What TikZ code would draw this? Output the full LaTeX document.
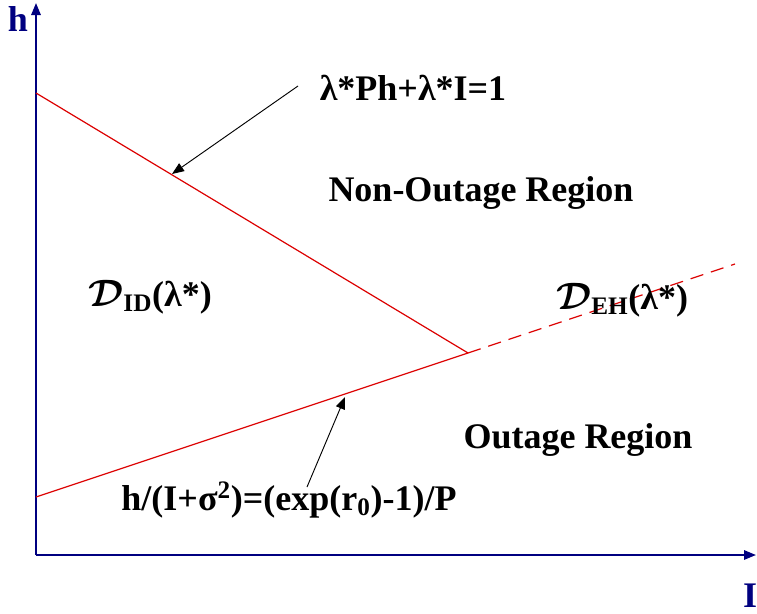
\documentclass[tikz,border=0pt]{standalone}
\usepackage{fontspec}
\setmainfont{Liberation Serif}
\usepackage{amsmath,amssymb}
\usepackage{xcolor}
\usetikzlibrary{positioning, calc, arrows.meta}

\definecolor{axisblue}{RGB}{0,0,128}
\definecolor{bndred}{RGB}{220,0,0}

\newcommand{\calD}{\scalebox{1.15}{$\boldsymbol{\mathcal{D}}$}}

\tikzset{
    axisline/.style={draw=axisblue, line width=1.5pt, -{Triangle[length=9pt,width=7pt]}},
    bndline/.style={draw=bndred, line width=0.9pt},
    pointer/.style={draw=black, line width=0.7pt, -{Triangle[length=9pt,width=7pt]}},
    lbl/.style={font=\fontsize{27}{32}\selectfont\bfseries, inner sep=0pt}
}

\begin{document}
\begin{tikzpicture}[x=0.75pt, y=-0.75pt]
        \useasboundingbox (0,0) rectangle (757,614);

        % ===================================================
        % 1. AXES
        % ===================================================
        \coordinate (O) at (36,555);
        \coordinate (ytip) at (36,3);
        \coordinate (xtip) at (756,555);
        \draw[axisline] (O) -- (ytip);
        \draw[axisline] (O) -- (xtip);
        \node[lbl, text=axisblue] (hlbl) at (18,19) {h};
        \node[lbl, text=axisblue] (Ilbl) at (750,596) {I};

        % ===================================================
        % 2. REGION BOUNDARIES
        % ===================================================
        \coordinate (A) at (36,93);   % lambda line on h axis
        \coordinate (B) at (36,497);  % outage line on h axis
        \coordinate (K) at (468,353); % where both lines meet
        \coordinate (E) at (735,264); % end of dashed part

        \draw[bndline] (A) -- (K);
        \draw[bndline] (B) -- (K);
        \draw[bndline, dash pattern=on 10pt off 6pt] (K) -- (E);

        % ===================================================
        % 3. REGION LABELS
        % ===================================================
        \node[lbl] (nonout) at (481,193) {Non-Outage Region};
        \node[lbl] (out) at (578,440) {Outage Region};
        \node[lbl] (dID) at (150,297) {\calD\textsubscript{ID}(λ*)};
        \node[lbl] (dEH) at (622,300) {\calD\textsubscript{EH}(λ*)};

        % ===================================================
        % 4. LINE EQUATIONS & POINTERS
        % ===================================================
        \node[lbl] (eq1) at (413,88) {λ*Ph+λ*I=1};
        \coordinate (p1) at (172,174);
        \draw[pointer] (298,86) -- (p1);

        \node[lbl] (eq2) at (289,500) {h/(I+σ\textsuperscript{2})=(exp(r\textsubscript{0})-1)/P};
        \coordinate (p2) at (345,397);
        \draw[pointer] (307,487) -- (p2);

    \end{tikzpicture}
\end{document}
